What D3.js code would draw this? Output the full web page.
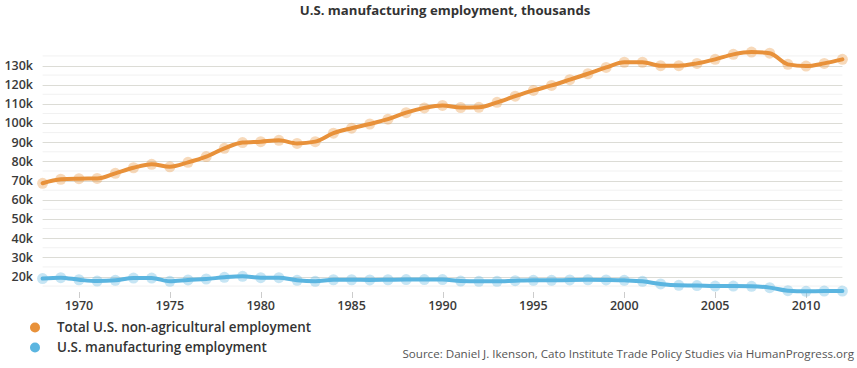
<!DOCTYPE html>
<html><head><meta charset="utf-8">
<script src="https://cdn.jsdelivr.net/npm/d3@7"></script>
<style>
html,body{margin:0;padding:0;background:#fff;}
svg{display:block;font-family:"Open Sans",sans-serif;}
</style></head>
<body><svg id="c" width="857" height="368"></svg>
<script>
const years = d3.range(1968, 2013);
const totalNonAg = [68.6,70.7,71.0,71.1,73.8,76.7,78.5,77.2,79.5,82.5,86.8,89.8,90.3,91.0,89.4,90.3,94.7,97.3,99.5,102.0,105.4,107.9,109.2,108.1,108.2,110.8,114.0,117.0,119.6,122.6,125.7,129.0,131.7,131.7,129.9,129.9,131.1,133.2,135.8,137.0,136.4,130.6,129.7,131.1,133.2];
const manufacturing = [18.9,19.4,18.3,17.6,18.0,19.2,19.2,17.5,18.2,18.7,19.6,20.1,19.4,19.4,18.0,17.5,18.3,18.3,18.2,18.3,18.4,18.4,18.4,17.6,17.5,17.5,17.8,18.0,18.0,18.2,18.3,18.2,18.0,17.5,16.1,15.4,15.3,15.0,15.0,14.9,14.2,12.6,12.3,12.4,12.4];
const majorTicks = d3.range(20, 131, 10);
const minorTicks = d3.range(15, 136, 10);
const xTicks = [1970,1975,1980,1985,1990,1995,2000,2005,2010];
const seriesNames = ["Total U.S. non-agricultural employment","U.S. manufacturing employment"];
const colors = ["#E8913A","#5BB5E0"];
const title = "U.S. manufacturing employment, thousands";
const source = "Source: Daniel J. Ikenson, Cato Institute Trade Policy Studies via HumanProgress.org";

const svg = d3.select("#c");
const x = d3.scaleLinear().domain([1968, 2012]).range([42.6, 842.4]);
const y = d3.scaleLinear().domain([20, 130]).range([276.5, 65.5]);

svg.append("text").attr("x", 445).attr("y", 15).attr("text-anchor","middle")
  .attr("font-size", 13.2).attr("font-weight", 700).attr("fill","#333").text(title);

// minor grid
svg.append("g").selectAll("line").data(minorTicks).join("line")
  .attr("x1", x(1968)).attr("x2", x(2012)).attr("y1", d=>y(d)).attr("y2", d=>y(d))
  .attr("stroke","#f1f1f1").attr("stroke-width",1);
// major grid
svg.append("g").selectAll("line").data(majorTicks).join("line")
  .attr("x1", x(1968)).attr("x2", x(2012)).attr("y1", d=>Math.round(y(d))+0.5).attr("y2", d=>Math.round(y(d))+0.5)
  .attr("stroke","#dcdcd6").attr("stroke-width",1);

// y labels
svg.append("g").selectAll("text").data(majorTicks).join("text")
  .attr("x", 33).attr("y", d=>y(d)).attr("dy","0.35em").attr("text-anchor","end")
  .attr("font-size", 12.5).attr("font-weight", 600).attr("fill","#3a3a3a").text(d=>d+"k");

// x ticks
svg.append("g").selectAll("line").data(xTicks).join("line")
  .attr("x1", d=>Math.round(x(d))+0.5).attr("x2", d=>Math.round(x(d))+0.5).attr("y1", 292).attr("y2", 298)
  .attr("stroke","#ccc");
svg.append("g").selectAll("text").data(xTicks).join("text")
  .attr("x", d=>x(d)).attr("y", 309.5).attr("text-anchor","middle")
  .attr("font-size", 12.5).attr("font-weight", 600).attr("fill","#3a3a3a").text(d=>d);

const line = d3.line().x((d,i)=>x(years[i])).y(d=>y(d)).curve(d3.curveMonotoneX);
[totalNonAg, manufacturing].forEach((s, k) => {
  const g = svg.append("g");
  g.selectAll("circle").data(s).join("circle")
    .attr("cx",(d,i)=>x(years[i])).attr("cy",d=>y(d)).attr("r",5.5)
    .attr("fill",colors[k]).attr("fill-opacity",0.35);
  g.append("path").datum(s).attr("d", line).attr("fill","none")
    .attr("stroke",colors[k]).attr("stroke-width",4).attr("stroke-linejoin","round").attr("stroke-linecap","round");
});

// legend
seriesNames.forEach((n,k)=>{
  const cy = 327.5 + k*20;
  svg.append("circle").attr("cx",35).attr("cy",cy).attr("r",5).attr("fill",colors[k]);
  svg.append("text").attr("x",57).attr("y",cy).attr("dy","0.35em")
    .attr("font-size",13.4).attr("font-weight",600).attr("fill","#333").text(n);
});

svg.append("text").attr("x",854).attr("y",353.5).attr("dy","0.35em").attr("text-anchor","end")
  .attr("font-size",11.6).attr("fill","#555").text(source);
</script></body></html>
